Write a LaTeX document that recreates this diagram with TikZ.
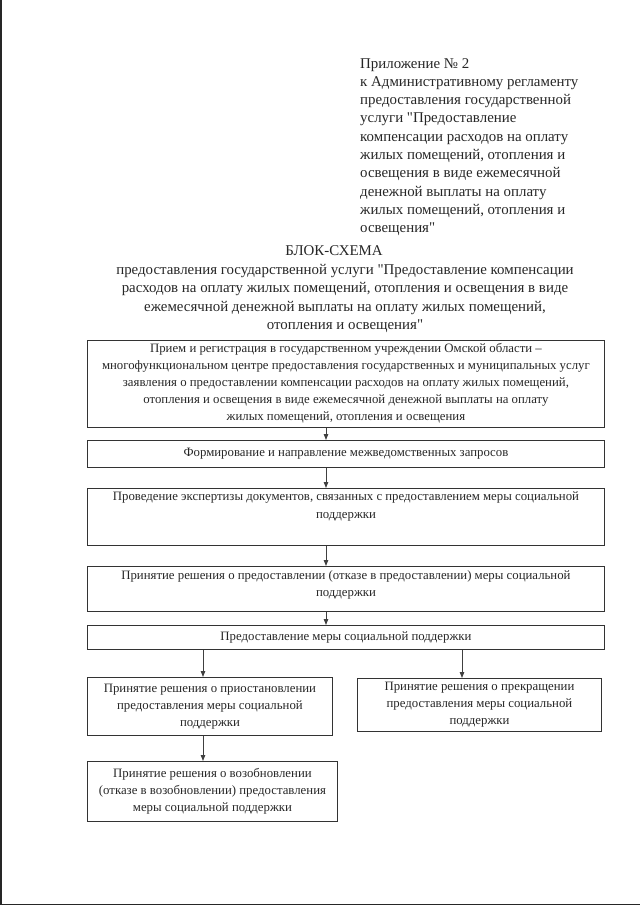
\documentclass[tikz,border=0pt]{standalone}
\usepackage{fontspec}
\setmainfont{Liberation Serif}[Ligatures=TeXOff]
\usetikzlibrary{arrows.meta}
\tikzset{
  box/.style={draw=black!80, line width=0.9pt, anchor=north west, inner sep=0pt},
  boxtext/.style={align=center, inner sep=0pt, font=\fontsize{12.8}{17.1}\selectfont, text=black!85},
  head/.style={inner sep=0pt, font=\fontsize{14.9}{18.3}\selectfont, text=black!85},
  arr/.style={draw=black!75, line width=0.9pt, -{Triangle[length=6pt,width=4.5pt]}},
  scan/.style={draw=black!85}
}
\begin{document}
\begin{tikzpicture}[x=1pt,y=-1pt]
\useasboundingbox (0,0) rectangle (640,905);
% scan edges
\draw[scan, line width=2pt] (1,0) -- (1,905);
\draw[scan, line width=1pt] (0,904) -- (640,904);
% header
\node[head, anchor=north west, align=left] (hdr) at (360,58) {Приложение № 2\\к Административному регламенту\\предоставления государственной\\услуги "Предоставление\\компенсации расходов на оплату\\жилых помещений, отопления и\\освещения в виде ежемесячной\\денежной выплаты на оплату\\жилых помещений, отопления и\\освещения"};
\node[head, anchor=base] (title) at (334,255) {БЛОК-СХЕМА};
\node[head, anchor=north, align=center] (subtitle) at ([yshift=-5pt]345,259) {предоставления государственной услуги "Предоставление компенсации\\расходов на оплату жилых помещений, отопления и освещения в виде\\ежемесячной денежной выплаты на оплату жилых помещений,\\отопления и освещения"};
% boxes
\node[box, minimum width=517pt, minimum height=87pt] (b1) at (87,340) {};
\node[boxtext, anchor=north] (t1) at ([yshift=-3pt]b1.north) {Прием и регистрация в государственном учреждении Омской области –\\многофункциональном центре предоставления государственных и муниципальных услуг\\заявления о предоставлении компенсации расходов на оплату жилых помещений,\\отопления и освещения в виде ежемесячной денежной выплаты на оплату\\жилых помещений, отопления и освещения};
\node[box, minimum width=517pt, minimum height=27pt] (b2) at (87,440) {};
\node[boxtext] (t2) at (b2.center) {Формирование и направление межведомственных запросов};
\node[box, minimum width=517pt, minimum height=57pt] (b3) at (87,488) {};
\node[boxtext, anchor=north] (t3) at ([yshift=-4pt]b3.north) {Проведение экспертизы документов, связанных с предоставлением меры социальной\\поддержки};
\node[box, minimum width=517pt, minimum height=45pt] (b4) at (87,566) {};
\node[boxtext, anchor=north] (t4) at ([yshift=-4pt]b4.north) {Принятие решения о предоставлении (отказе в предоставлении) меры социальной\\поддержки};
\node[box, minimum width=517pt, minimum height=24pt] (b5) at (87,625) {};
\node[boxtext] (t5) at (b5.center) {Предоставление меры социальной поддержки};
\node[box, minimum width=245pt, minimum height=58pt] (b6) at (87,677) {};
\node[boxtext] (t6) at (b6.center) {Принятие решения о приостановлении\\предоставления меры социальной\\поддержки};
\node[box, minimum width=244pt, minimum height=53pt] (b7) at (357,678) {};
\node[boxtext] (t7) at (b7.center) {Принятие решения о прекращении\\предоставления меры социальной\\поддержки};
\node[box, minimum width=250pt, minimum height=60pt] (b8) at (87,761) {};
\node[boxtext] (t8) at (b8.center) {Принятие решения о возобновлении\\(отказе в возобновлении) предоставления\\меры социальной поддержки};
% arrows
\draw[arr] (b1.south -| 326,0) -- (b2.north -| 326,0);
\draw[arr] (b2.south -| 326,0) -- (b3.north -| 326,0);
\draw[arr] (b3.south -| 326,0) -- (b4.north -| 326,0);
\draw[arr] (b4.south -| 326,0) -- (b5.north -| 326,0);
\draw[arr] (b5.south -| 203,0) -- (b6.north -| 203,0);
\draw[arr] (b5.south -| 462,0) -- (b7.north -| 462,0);
\draw[arr] (b6.south -| 203,0) -- (b8.north -| 203,0);
\end{tikzpicture}
\end{document}
